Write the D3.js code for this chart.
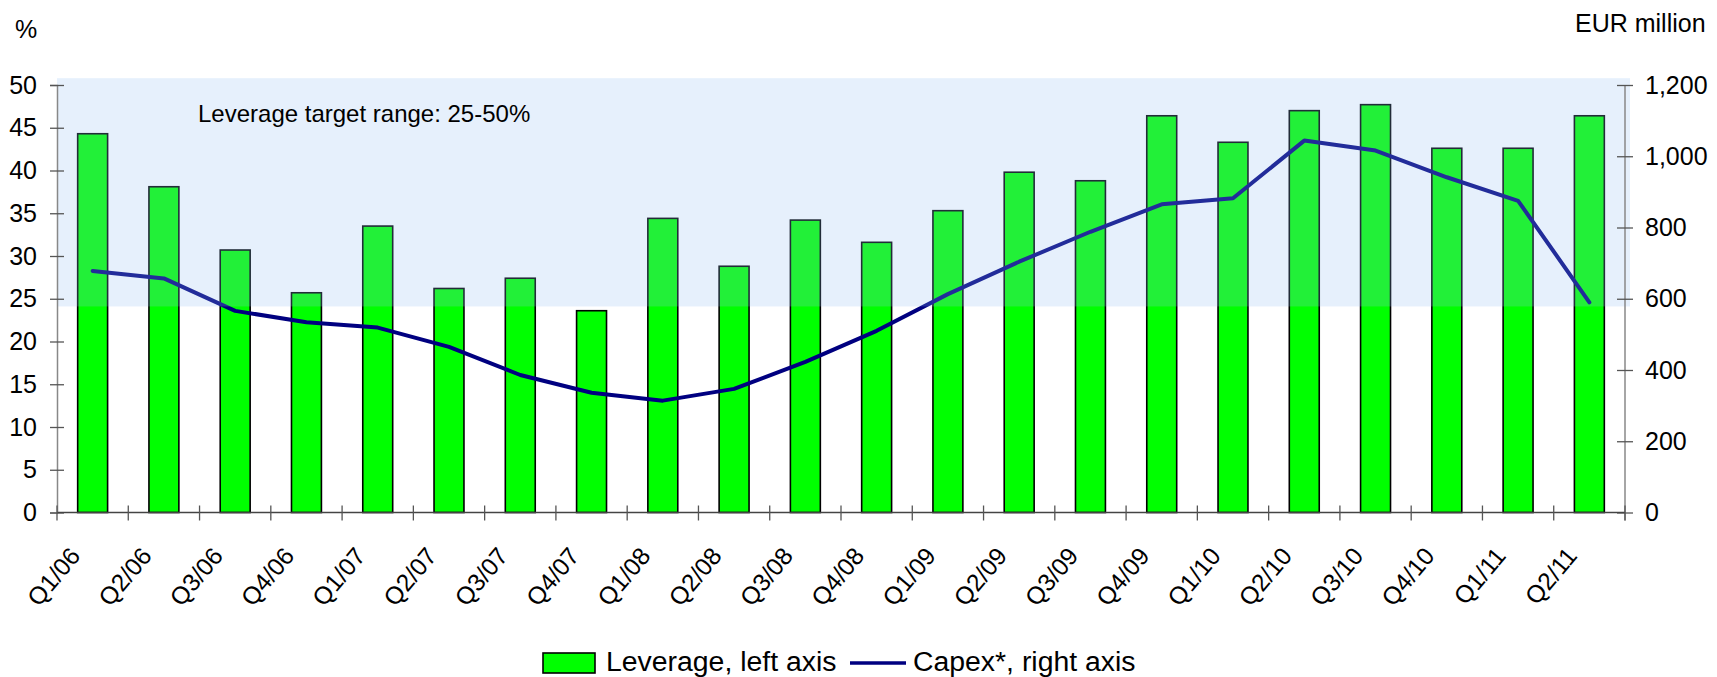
<!DOCTYPE html>
<html>
<head>
<meta charset="utf-8">
<script src="https://cdn.jsdelivr.net/npm/d3@7"></script>
<style>
  body { margin: 0; background: #fff; }
  svg text { font-family: "Liberation Sans", Arial, sans-serif; fill: #000; }
</style>
</head>
<body>
<script>
// data
const categories = ["Q1/06","Q2/06","Q3/06","Q4/06","Q1/07","Q2/07","Q3/07","Q4/07",
  "Q1/08","Q2/08","Q3/08","Q4/08","Q1/09","Q2/09","Q3/09","Q4/09",
  "Q1/10","Q2/10","Q3/10","Q4/10","Q1/11","Q2/11"];
const leverage = [44.3, 38.1, 30.7, 25.7, 33.5, 26.2, 27.4, 23.6, 34.4, 28.8, 34.2, 31.6,
  35.3, 39.8, 38.8, 46.4, 43.3, 47.0, 47.7, 42.6, 42.6, 46.4];
const capex = [678, 657, 566, 534, 519, 465, 386, 336, 314, 347, 423, 510,
  613, 704, 788, 865, 882, 1044, 1016, 941, 875, 590];
const leftTicks = [0, 5, 10, 15, 20, 25, 30, 35, 40, 45, 50];
const rightTicks = [0, 200, 400, 600, 800, 1000, 1200];
const targetBand = [24.1, 50.8];

const width = 1717, height = 677;
const plotLeft = 57, plotRight = 1625, plotTop = 85, plotBottom = 512.5;

const svg = d3.select("body").append("svg").attr("width", width).attr("height", height);

const x = d3.scaleBand().domain(categories).range([plotLeft, plotRight])
  .paddingInner(0.58).paddingOuter(0.29);
const yL = d3.scaleLinear().domain([0, 50]).range([plotBottom, plotTop]);
const yR = d3.scaleLinear().domain([0, 1200]).range([plotBottom, plotTop]);

// bars
svg.selectAll("rect.bar")
  .data(leverage)
  .enter()
  .append("rect")
  .attr("class", "bar")
  .attr("x", (d, i) => x(categories[i]))
  .attr("width", x.bandwidth())
  .attr("y", d => yL(d))
  .attr("height", d => yL(0) - yL(d))
  .attr("fill", "#00ff00")
  .attr("stroke", "#000")
  .attr("stroke-width", 1.6);

// capex line
const line = d3.line()
  .x((d, i) => x(categories[i]) + x.bandwidth() / 2)
  .y(d => yR(d));
svg.append("path")
  .datum(capex)
  .attr("d", line)
  .attr("fill", "none")
  .attr("stroke", "#000080")
  .attr("stroke-width", 4)
  .attr("stroke-linejoin", "round")
  .attr("stroke-linecap", "round");

// target range band drawn on top, semi transparent
svg.append("rect")
  .attr("x", plotLeft)
  .attr("width", plotRight + 5 - plotLeft)
  .attr("y", yL(targetBand[1]))
  .attr("height", yL(targetBand[0]) - yL(targetBand[1]))
  .attr("fill", "rgb(147,190,242)")
  .attr("opacity", 0.23);

svg.append("text")
  .attr("x", 198).attr("y", 122)
  .attr("font-size", 24)
  .text("Leverage target range: 25-50%");

// left axis
const gL = svg.append("g").attr("transform", `translate(${plotLeft},0)`)
  .call(d3.axisLeft(yL).tickValues(leftTicks).tickSizeOuter(0).tickSize(7).tickPadding(13));
gL.select(".domain").attr("stroke", "#888").attr("stroke-width", 1.5);
gL.selectAll(".tick line").attr("x1", -7).attr("x2", 7).attr("stroke", "#555").attr("stroke-width", 1.3);
gL.selectAll(".tick text").attr("font-size", 25).attr("font-family", null);

// right axis
const gR = svg.append("g").attr("transform", `translate(${plotRight},0)`)
  .call(d3.axisRight(yR).tickValues(rightTicks).tickFormat(d3.format(",")).tickSizeOuter(0).tickSize(8).tickPadding(12));
gR.select(".domain").attr("stroke", "#888").attr("stroke-width", 1.5)
  .attr("d", `M0,${plotBottom + 8}V${plotTop}`);
gR.selectAll(".tick line").attr("x1", -8).attr("x2", 8).attr("stroke", "#555").attr("stroke-width", 1.3);
gR.selectAll(".tick text").attr("font-size", 25).attr("font-family", null);

// x axis line and boundary ticks
svg.append("line")
  .attr("x1", plotLeft).attr("x2", plotRight)
  .attr("y1", plotBottom).attr("y2", plotBottom)
  .attr("stroke", "#444").attr("stroke-width", 1.5);
const bounds = d3.range(categories.length + 1).map(i => x.range()[0] + i * x.step());
svg.selectAll("line.xtick")
  .data(bounds)
  .enter()
  .append("line")
  .attr("class", "xtick")
  .attr("x1", d => d).attr("x2", d => d)
  .attr("y1", plotBottom - 7).attr("y2", plotBottom + 8)
  .attr("stroke", "#555").attr("stroke-width", 1.3);

// x labels, rotated
const gX = svg.append("g").attr("transform", `translate(0,${plotBottom})`)
  .call(d3.axisBottom(x).tickSize(0));
gX.select(".domain").remove();
gX.selectAll(".tick text")
  .attr("font-size", 24.5).attr("font-family", null)
  .attr("text-anchor", "end")
  .attr("x", -11).attr("y", 44).attr("dy", 0)
  .attr("transform", "rotate(-50,-11,44)");

// axis titles
svg.append("text").attr("x", 15).attr("y", 38).attr("font-size", 25).text("%");
svg.append("text").attr("x", 1575).attr("y", 32).attr("font-size", 25).text("EUR million");

// legend
svg.append("rect")
  .attr("x", 543).attr("y", 653).attr("width", 52).attr("height", 20)
  .attr("fill", "#00ff00").attr("stroke", "#000").attr("stroke-width", 1.6);
svg.append("text").attr("x", 606).attr("y", 671).attr("font-size", 28.4).text("Leverage, left axis");
svg.append("line")
  .attr("x1", 850).attr("x2", 906).attr("y1", 663).attr("y2", 663)
  .attr("stroke", "#000080").attr("stroke-width", 3.5);
svg.append("text").attr("x", 913).attr("y", 671).attr("font-size", 28.4).text("Capex*, right axis");
</script>
</body>
</html>
